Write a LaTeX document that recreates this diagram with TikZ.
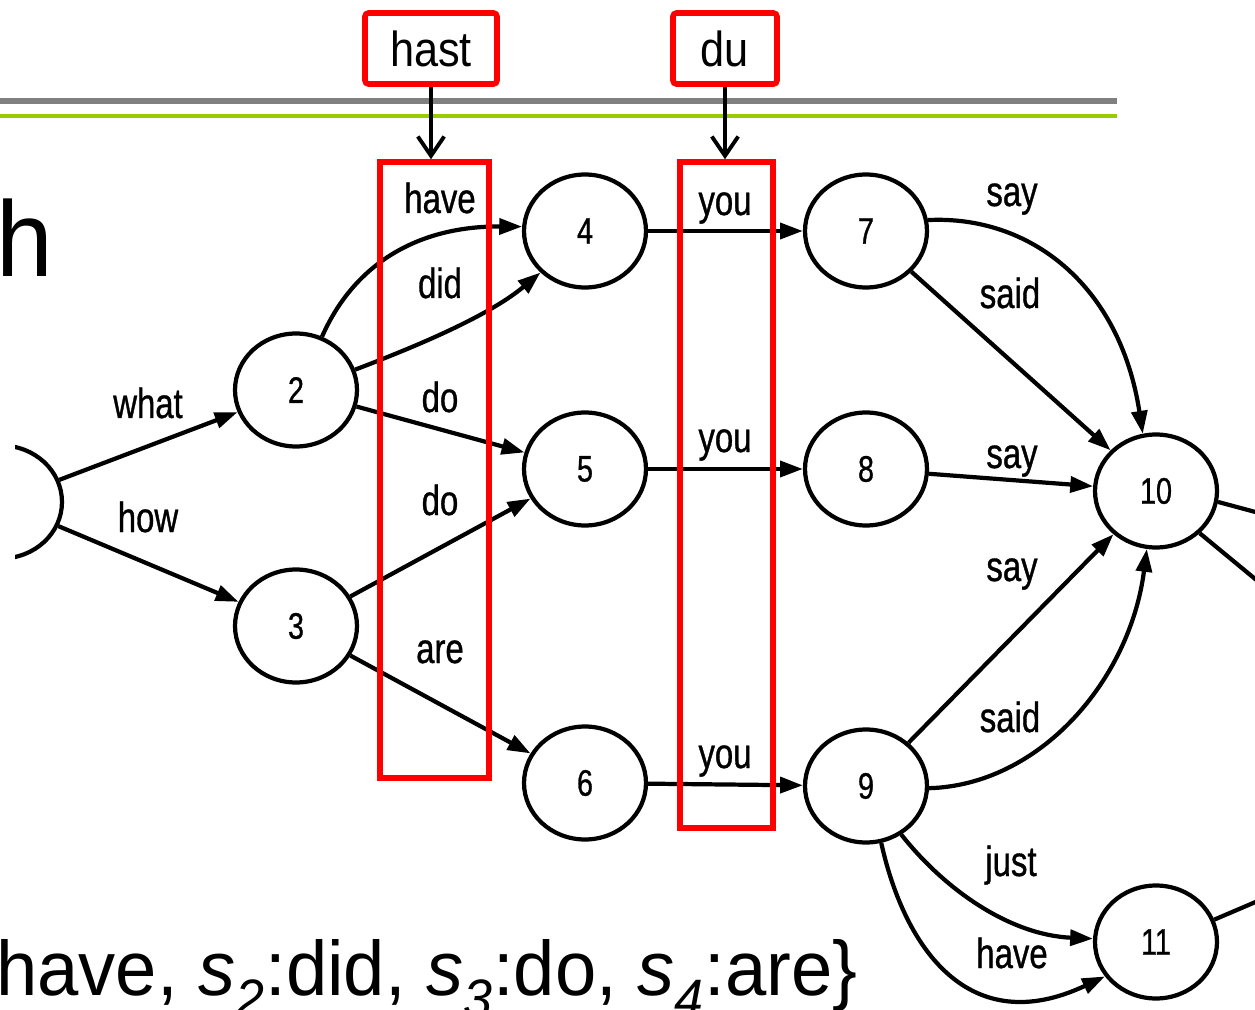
\documentclass[tikz,border=0pt]{standalone}
\usepackage{fontspec}
\setmainfont{Liberation Sans}
\newfontfamily\lblfont[FakeStretch=0.78,FakeBold=0.8]{Liberation Sans}
\newfontfamily\boxfont[FakeStretch=0.88]{Liberation Sans}
\newfontfamily\bigfont[FakeStretch=0.95]{Liberation Sans}
\newfontfamily\botfont[FakeStretch=0.96]{Liberation Sans}
\usetikzlibrary{shapes.geometric,arrows.meta}
\definecolor{rulegray}{RGB}{128,128,128}
\definecolor{rulegreen}{RGB}{153,204,0}
\definecolor{boxred}{RGB}{255,0,0}
\begin{document}
\begin{tikzpicture}[x=0.02cm,y=-0.02cm,
  state/.style={ellipse,draw,line width=2.4pt,minimum width=2.44cm,minimum height=2.26cm,inner sep=0pt,font=\lblfont\fontsize{21}{21}\selectfont},
  lbl/.style={inner sep=0pt,anchor=base,font=\lblfont\fontsize{24}{24}\selectfont},
  arc/.style={line width=2.4pt,-{Triangle[length=13pt,width=9pt]}},
  plain/.style={line width=2.4pt},
  redbox/.style={draw=boxred,line width=3.2pt,inner sep=0pt},
  tagbox/.style={redbox,rounded corners=2pt,font=\boxfont\fontsize{28}{28}\selectfont},
  ptr/.style={line width=2.2pt,-{Straight Barb[length=11pt,width=15pt]}},
  rule/.style={line width=3.2pt}
]
\clip (0,0) rectangle (1255,1010);
% header rules
\draw[rule,rulegray] (0,101) -- (1117,101);
\draw[rule,rulegreen,line width=2.8pt] (0,116) -- (1117,116);

% large texts
\node[anchor=base west,inner sep=0pt,font=\bigfont\fontsize{61}{61}\selectfont] (bigh) at (-4,277) {h};
\node[anchor=base west,inner sep=0pt,font=\botfont\fontsize{44}{44}\selectfont] (bot) at (-4,995)
  {have, \textit{s}\textsubscript{\textit{2}}:did, \textit{s}\textsubscript{\textit{3}}:do, \textit{s}\textsubscript{\textit{4}}:are\}};

% states
\begin{scope}
  \clip (15,0) rectangle (200,1010);
  \node[state] (n1) at (1,502) {};
\end{scope}
\node[state] (n2) at (296,390) {2};
\node[state] (n3) at (296,626) {3};
\node[state] (n4) at (585,231) {4};
\node[state] (n5) at (585,469) {5};
\node[state] (n6) at (585,783) {6};
\node[state] (n7) at (866,231) {7};
\node[state] (n8) at (866,469) {8};
\node[state] (n9) at (866,786) {9};
\node[state] (n10) at (1156,491) {10};
\node[state] (n11) at (1156,942) {11};
\coordinate (o1) at (1300,524);
\coordinate (o2) at (1300,616);
\coordinate (o3) at (1300,883);

% transitions
\draw[arc] (n1) -- (n2);
\draw[arc] (n1) -- (n3);
\draw[arc] (n2.64) .. controls (355,262) and (420,226) .. (n4.176);
\draw[arc] (n2.19) .. controls (420,345) and (490,315) .. (n4.223);
\draw[arc] (n2) -- (n5);
\draw[arc] (n3) -- (n5);
\draw[arc] (n3) -- (n6);
\draw[arc] (n4) -- (n7);
\draw[arc] (n5) -- (n8);
\draw[arc] (n6) -- (n9);
\draw[arc] (n7.10) .. controls (1030,215) and (1120,285) .. (n10.103);
\draw[arc] (n7) -- (n10);
\draw[arc] (n8) -- (n10);
\draw[arc] (n9) -- (n10);
\draw[arc] (n9.-2) .. controls (1040,785) and (1130,680) .. (n10.261);
\draw[arc] (n9.-54) .. controls (945,890) and (1010,935) .. (n11.177);
\draw[arc] (n9.-75) .. controls (905,950) and (970,1040) .. (n11.214);
\draw[plain] (n10.-10) -- (o1);
\draw[plain] (n10.-44) -- (o2);
\draw[plain] (n11.21) -- (o3);

% labels
\node[lbl] (lwhat) at (148,418) {what};
\node[lbl] (lhow) at (148,532) {how};
\node[lbl] (lhave) at (440,213) {have};
\node[lbl] (ldid) at (440,298) {did};
\node[lbl] (ldo1) at (440,412) {do};
\node[lbl] (ldo2) at (440,515) {do};
\node[lbl] (lare) at (440,663) {are};
\node[lbl] (lyou1) at (725,215) {you};
\node[lbl] (lyou2) at (725,452) {you};
\node[lbl] (lyou3) at (725,768) {you};
\node[lbl] (lsay1) at (1012,206) {say};
\node[lbl] (lsaid1) at (1010,308) {said};
\node[lbl] (lsay2) at (1012,468) {say};
\node[lbl] (lsay3) at (1012,581) {say};
\node[lbl] (lsaid2) at (1010,732) {said};
\node[lbl] (ljust) at (1011,876) {just};
\node[lbl] (lhave2) at (1012,968) {have};

% highlight boxes
\node[redbox,minimum width=2.18cm,minimum height=12.32cm] (hbox) at (434.5,470) {};
\node[redbox,minimum width=1.86cm,minimum height=13.32cm] (dbox) at (726.5,495) {};
\node[tagbox,minimum width=2.64cm,minimum height=1.42cm] (hast) at (431,48.5) {hast};
\node[tagbox,minimum width=2.08cm,minimum height=1.42cm] (du) at (725,48.5) {du};
\draw[ptr] (hast.south) -- (hast.south |- hbox.north);
\draw[ptr] (du.south) -- (du.south |- dbox.north);
\end{tikzpicture}
\end{document}
